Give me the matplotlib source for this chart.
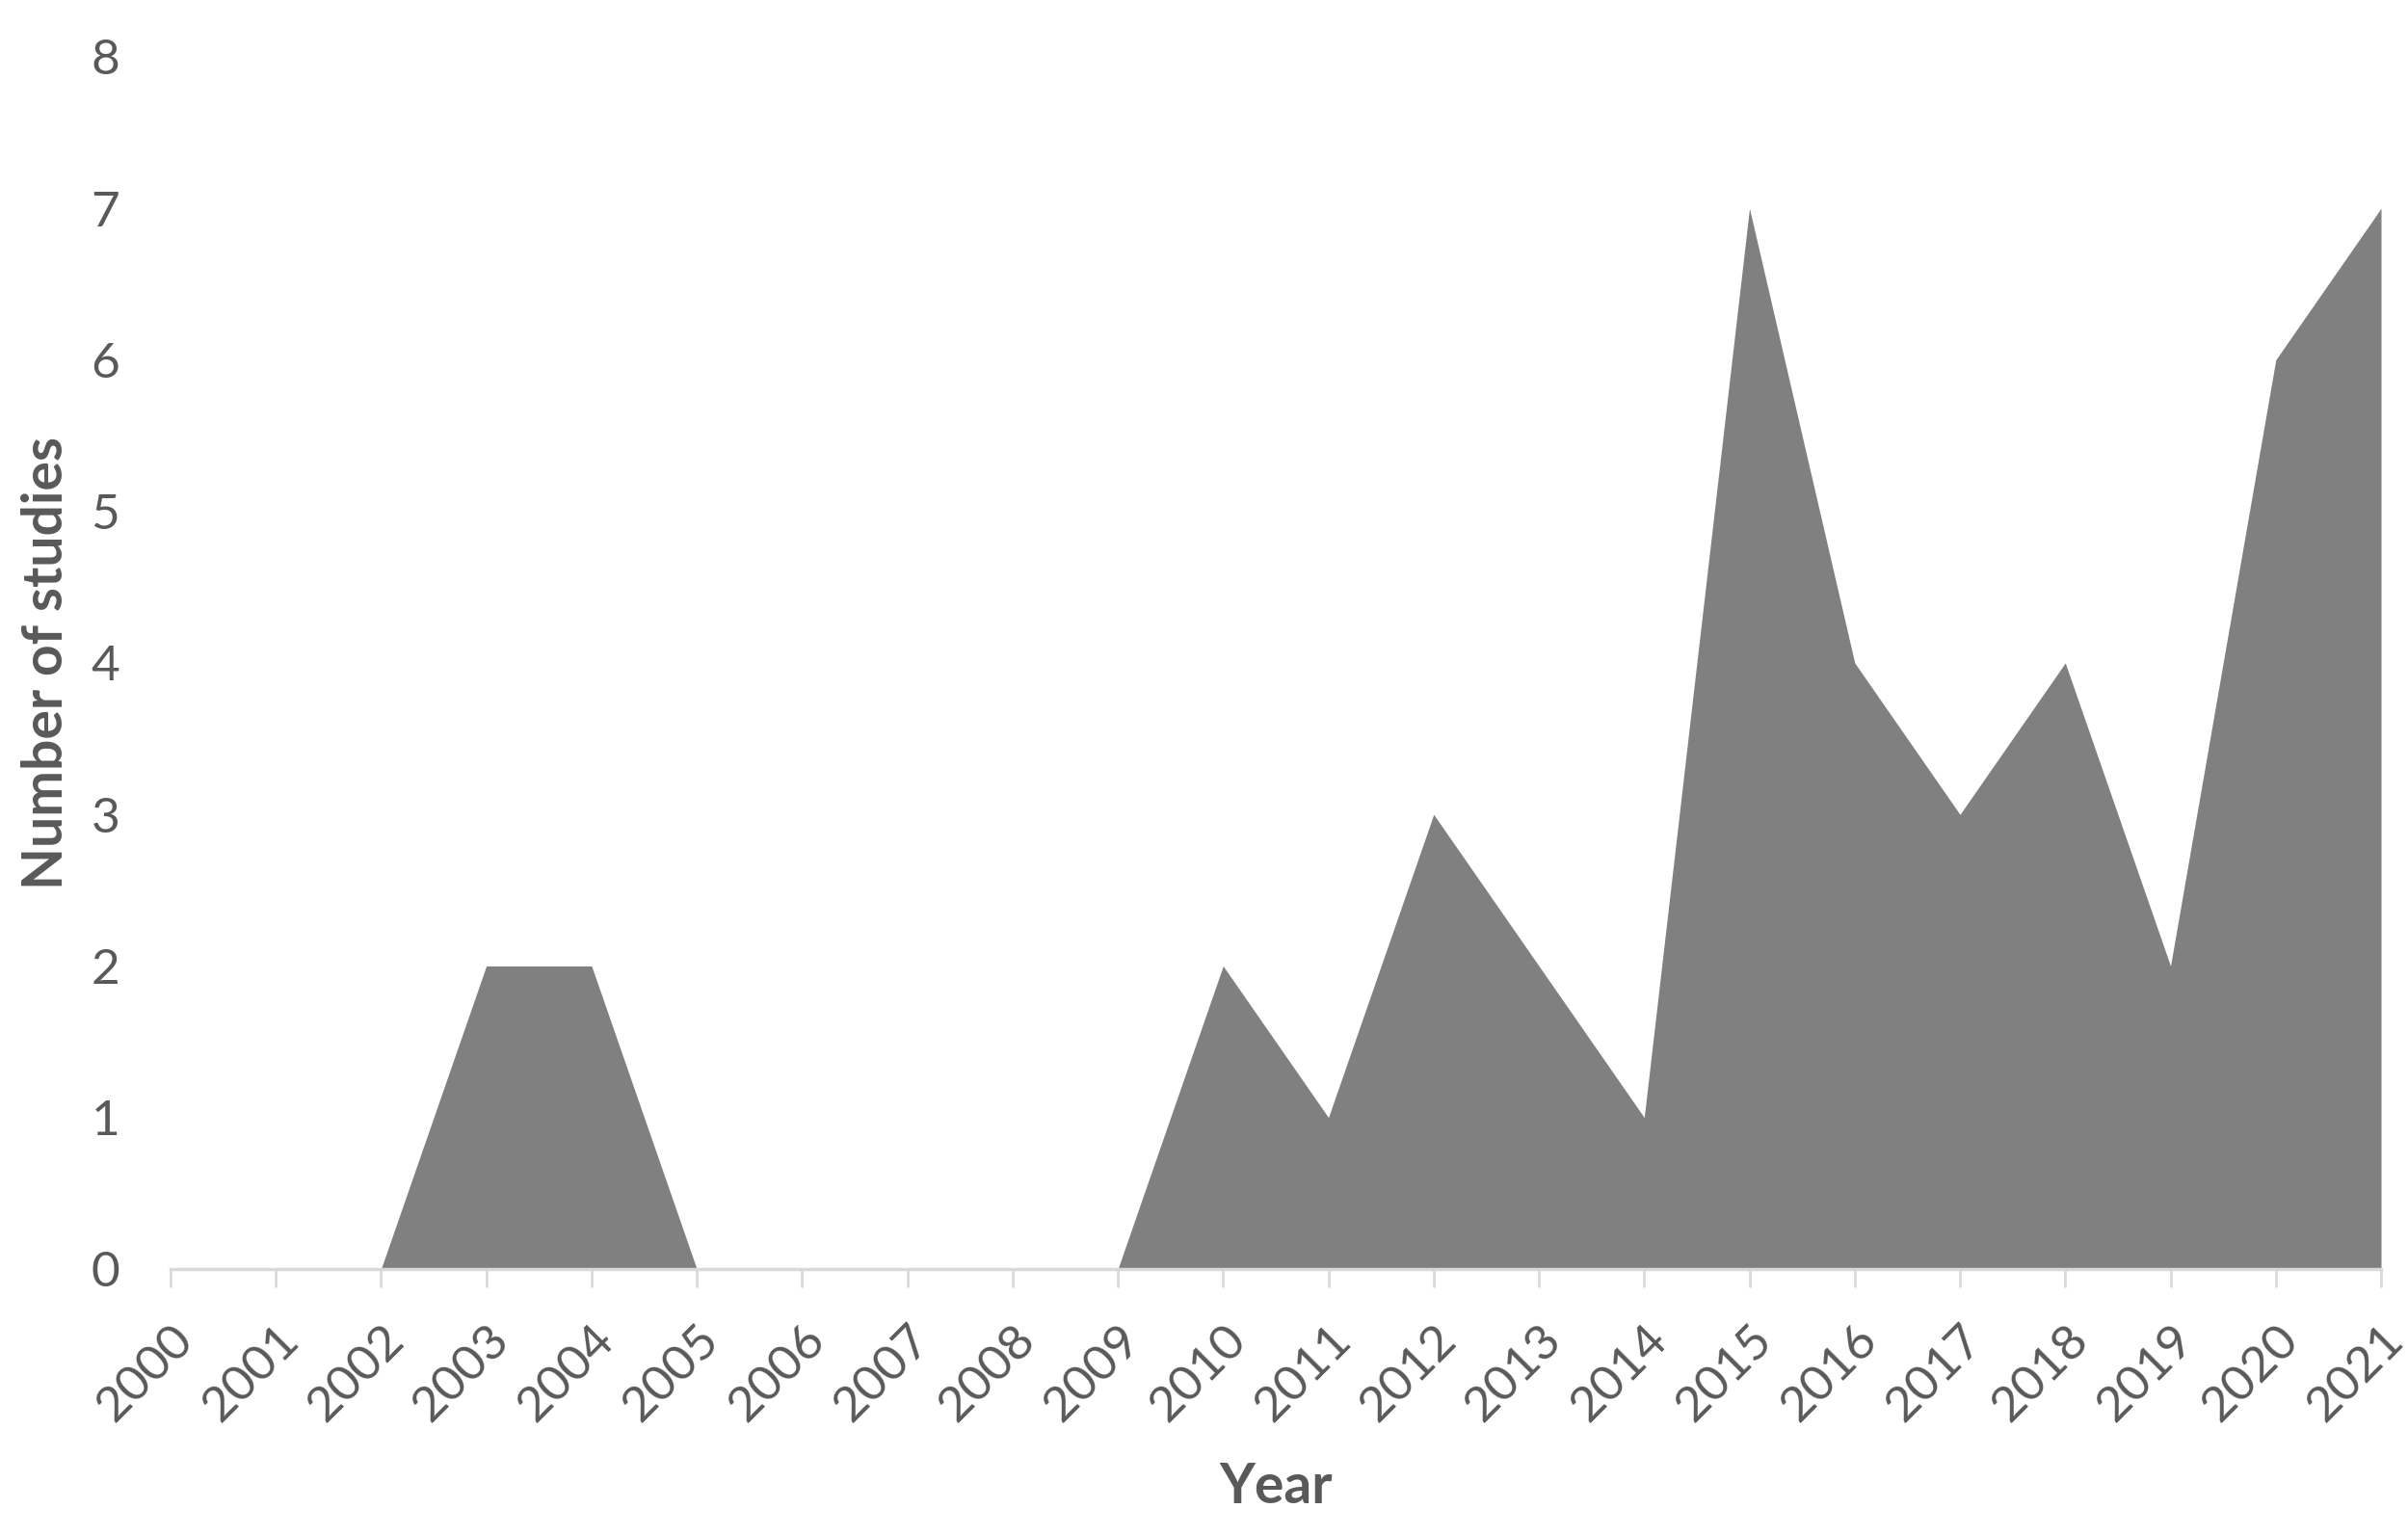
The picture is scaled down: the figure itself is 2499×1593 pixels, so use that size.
import matplotlib
matplotlib.use("Agg")
import matplotlib.pyplot as plt

years = list(range(2000, 2022))
studies = [0, 0, 0, 2, 2, 0, 0, 0, 0, 0, 2, 1, 3, 2, 1, 7, 4, 3, 4, 2, 6, 7]
yticks = [0, 1, 2, 3, 4, 5, 6, 7, 8]

plt.rcParams['font.family'] = ['Lato', 'DejaVu Sans']
text_col = '#595959'

fig = plt.figure(figsize=(24.99, 15.93), dpi=100)
ax = fig.add_axes([0.0708, 0.1733, 0.918, 0.7897])

ax.fill_between(years, studies, 0, color='#808080', linewidth=0)

ax.set_xlim(years[0], years[-1])
ax.set_ylim(0, 8)
ax.set_xticks(years)
ax.set_xticklabels([str(y) for y in years], rotation=45, ha='right', va='top',
                   rotation_mode='anchor', fontsize=37, color=text_col)
ax.set_yticks(yticks)
ax.set_yticklabels([str(v) for v in yticks], fontsize=37, color=text_col)

for s in ['top', 'right', 'left']:
    ax.spines[s].set_visible(False)
ax.spines['bottom'].set_color('#d9d9d9')
ax.spines['bottom'].set_linewidth(2.5)
ax.tick_params(axis='x', length=14, width=2, color='#d9d9d9', pad=22)
ax.tick_params(axis='y', length=0, pad=38)

ax.set_xlabel('Year', fontsize=41, fontweight='bold', color=text_col, labelpad=24)
ax.set_ylabel('Number of studies', fontsize=41, fontweight='bold', color=text_col, labelpad=14)

fig.savefig('out.png', dpi=100)
